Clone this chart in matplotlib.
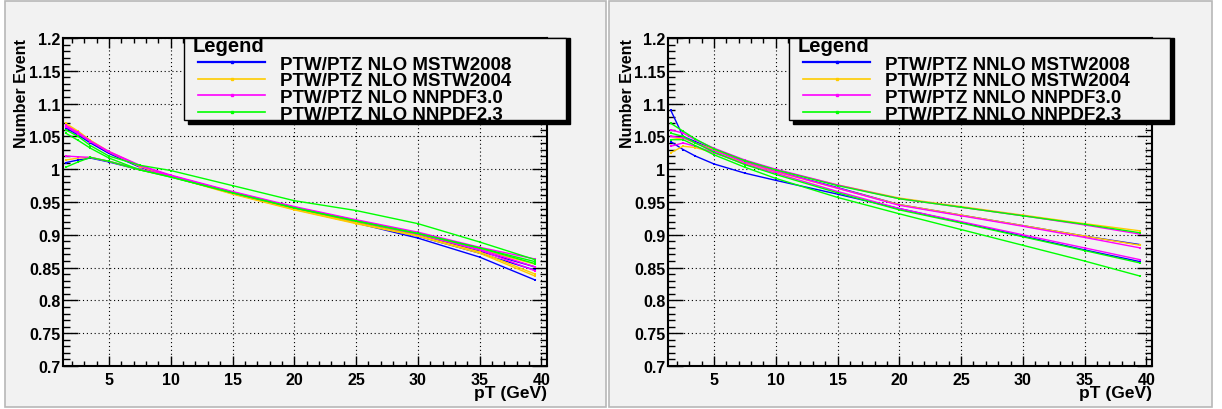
import matplotlib
matplotlib.use("Agg")
from matplotlib import pyplot as plt
from matplotlib.patches import Rectangle
from matplotlib.lines import Line2D
from matplotlib.ticker import MultipleLocator, FuncFormatter

plt.rcParams["font.family"] = ["Liberation Sans", "DejaVu Sans"]
plt.rcParams["font.weight"] = "bold"

# pT nodes (GeV)
pt = [1.5, 2.5, 3.5, 5, 7.5, 10, 15, 20, 25, 30, 35, 39.5]

# --- NLO ratios (left pad), three curves per PDF set ---
nlo_mstw2008 = [
    [1.065, 1.054, 1.041, 1.025, 1.004, 0.990, 0.964, 0.940, 0.919, 0.898, 0.872, 0.846],
    [1.063, 1.052, 1.040, 1.024, 1.003, 0.989, 0.963, 0.939, 0.918, 0.895, 0.866, 0.831],
    [1.010, 1.014, 1.017, 1.011, 0.999, 0.990, 0.965, 0.941, 0.921, 0.900, 0.875, 0.851],
]
nlo_mstw2004 = [
    [1.070, 1.058, 1.044, 1.027, 1.005, 0.990, 0.963, 0.939, 0.918, 0.899, 0.874, 0.840],
    [1.068, 1.056, 1.043, 1.026, 1.004, 0.989, 0.962, 0.938, 0.917, 0.898, 0.872, 0.837],
    [1.014, 1.017, 1.018, 1.012, 0.999, 0.989, 0.964, 0.940, 0.920, 0.901, 0.878, 0.855],
]
nlo_nnpdf30 = [
    [1.067, 1.056, 1.043, 1.027, 1.006, 0.991, 0.966, 0.943, 0.923, 0.904, 0.881, 0.863],
    [1.065, 1.054, 1.042, 1.026, 1.005, 0.990, 0.965, 0.942, 0.922, 0.902, 0.878, 0.851],
    [1.020, 1.019, 1.018, 1.012, 1.000, 0.990, 0.964, 0.941, 0.921, 0.901, 0.877, 0.845],
]
nlo_nnpdf23 = [
    [1.060, 1.050, 1.036, 1.020, 1.006, 0.998, 0.975, 0.952, 0.937, 0.917, 0.889, 0.862],
    [1.055, 1.044, 1.032, 1.017, 0.999, 0.988, 0.964, 0.941, 0.921, 0.902, 0.880, 0.859],
    [1.003, 1.011, 1.018, 1.012, 0.999, 0.988, 0.964, 0.941, 0.921, 0.902, 0.880, 0.856],
]

# --- NNLO ratios (right pad) ---
nnlo_mstw2008 = [
    [1.090, 1.050, 1.042, 1.030, 1.012, 0.997, 0.972, 0.946, 0.930, 0.914, 0.898, 0.885],
    [1.042, 1.030, 1.020, 1.008, 0.994, 0.983, 0.962, 0.940, 0.919, 0.898, 0.877, 0.859],
]
nnlo_mstw2004 = [
    [1.045, 1.048, 1.040, 1.030, 1.013, 0.999, 0.976, 0.956, 0.943, 0.930, 0.917, 0.906],
    [1.025, 1.035, 1.033, 1.025, 1.010, 0.996, 0.971, 0.946, 0.930, 0.914, 0.898, 0.884],
]
nnlo_nnpdf30 = [
    [1.060, 1.055, 1.045, 1.032, 1.014, 1.000, 0.976, 0.955, 0.942, 0.929, 0.915, 0.901],
    [1.050, 1.048, 1.040, 1.028, 1.011, 0.997, 0.971, 0.945, 0.929, 0.913, 0.896, 0.880],
    [1.035, 1.040, 1.035, 1.025, 1.008, 0.994, 0.966, 0.940, 0.920, 0.900, 0.880, 0.862],
]
nnlo_nnpdf23 = [
    [1.070, 1.058, 1.046, 1.031, 1.013, 0.999, 0.975, 0.955, 0.942, 0.929, 0.916, 0.903],
    [1.055, 1.050, 1.040, 1.026, 1.007, 0.992, 0.964, 0.938, 0.918, 0.897, 0.876, 0.857],
    [1.045, 1.045, 1.036, 1.022, 1.003, 0.986, 0.957, 0.932, 0.908, 0.884, 0.860, 0.837],
]

nlo_labels = ["PTW/PTZ NLO MSTW2008", "PTW/PTZ NLO MSTW2004",
              "PTW/PTZ NLO NNPDF3.0", "PTW/PTZ NLO NNPDF2.3"]
nnlo_labels = ["PTW/PTZ NNLO MSTW2008", "PTW/PTZ NNLO MSTW2004",
               "PTW/PTZ NNLO NNPDF3.0", "PTW/PTZ NNLO NNPDF2.3"]
colors = ["#0000ff", "#ffcc00", "#ff00ff", "#00ff00"]

W, H = 1222, 410
BG = "#f2f2f2"


def fx(px):
    return px / W


def fy(py):
    return 1 - py / H


fig = plt.figure(figsize=(W / 100, H / 100), dpi=100, facecolor="white")

# the two ROOT pads
for x0, x1 in [(5, 606), (609, 1212)]:
    fig.add_artist(Rectangle((fx(x0), fy(408)), fx(x1 - x0), 406 / H,
                             transform=fig.transFigure, facecolor=BG,
                             edgecolor="#b8b8b8", lw=1.2, zorder=-10))


def draw_pad(left_px, sets, labels, leg_x0, leg_x1):
    ax = fig.add_axes([fx(left_px), fy(367), fx(484), 328 / H])
    ax.set_facecolor(BG)
    for curves, col in zip(sets, colors):
        for vals in curves:
            ax.plot(pt, vals, color=col, lw=1.0, marker="s", ms=1.6, mew=0)
    ax.set_xlim(1.28, 40.45)
    ax.set_ylim(0.7, 1.2)
    ax.xaxis.set_major_locator(MultipleLocator(5))
    ax.xaxis.set_minor_locator(MultipleLocator(1))
    ax.yaxis.set_major_locator(MultipleLocator(0.05))
    ax.yaxis.set_minor_locator(MultipleLocator(0.01))
    ax.yaxis.set_major_formatter(FuncFormatter(lambda v, p: f"{v:g}"))
    ax.grid(True, which="major", color="black", lw=0.8, linestyle=(0, (1, 2.5)))
    ax.tick_params(which="both", direction="in", top=True, right=True,
                   labelsize=11.5, width=1)
    ax.tick_params(axis="x", which="major", length=7.2, pad=4)
    ax.tick_params(axis="x", which="minor", length=3.6)
    ax.tick_params(axis="y", which="major", length=10.5, pad=2)
    ax.tick_params(axis="y", which="minor", length=5)
    for side in ax.spines.values():
        side.set_linewidth(1.5)
    for lab in ax.get_xticklabels() + ax.get_yticklabels():
        lab.set_fontweight("bold")

    fig.text(fx(left_px - 41), fy(39), "Number Event", rotation=90,
             ha="center", va="top", fontsize=11.5, fontweight="bold")
    fig.text(fx(left_px + 484), fy(386), "pT (GeV)", ha="right",
             va="top", fontsize=12.5, fontweight="bold")

    # legend box with shadow, ROOT style
    fig.add_artist(Rectangle((fx(leg_x0 + 4), fy(125)), fx(leg_x1 - leg_x0),
                             86 / H, transform=fig.transFigure,
                             facecolor="black", edgecolor="black", zorder=3))
    fig.add_artist(Rectangle((fx(leg_x0), fy(121)), fx(leg_x1 - leg_x0),
                             82 / H, transform=fig.transFigure,
                             facecolor=BG, edgecolor="black", lw=1, zorder=4))
    fig.text(fx(leg_x0 + 9), fy(46), "Legend", ha="left", va="center",
             fontsize=14.5, fontweight="bold", zorder=6)
    for i, (lab, col) in enumerate(zip(labels, colors)):
        yy = fy(63 + 16.7 * i)
        fig.add_artist(Line2D([fx(leg_x0 + 14), fx(leg_x0 + 81)], [yy, yy],
                              transform=fig.transFigure, color=col,
                              lw=1.6 if i == 0 else 1.2, zorder=5))
        fig.add_artist(Line2D([fx(leg_x0 + 47.5)], [yy], marker="s", ms=2,
                              transform=fig.transFigure, color=col, zorder=5))
        fig.text(fx(leg_x0 + 96), yy - 2 / H, lab, ha="left", va="center",
                 fontsize=13.5, fontweight="bold", zorder=6)


draw_pad(63, [nlo_mstw2008, nlo_mstw2004, nlo_nnpdf30, nlo_nnpdf23],
         nlo_labels, 184, 566)
draw_pad(668, [nnlo_mstw2008, nnlo_mstw2004, nnlo_nnpdf30, nnlo_nnpdf23],
         nnlo_labels, 789, 1170)

fig.savefig("out.png", dpi=100, facecolor="white")
